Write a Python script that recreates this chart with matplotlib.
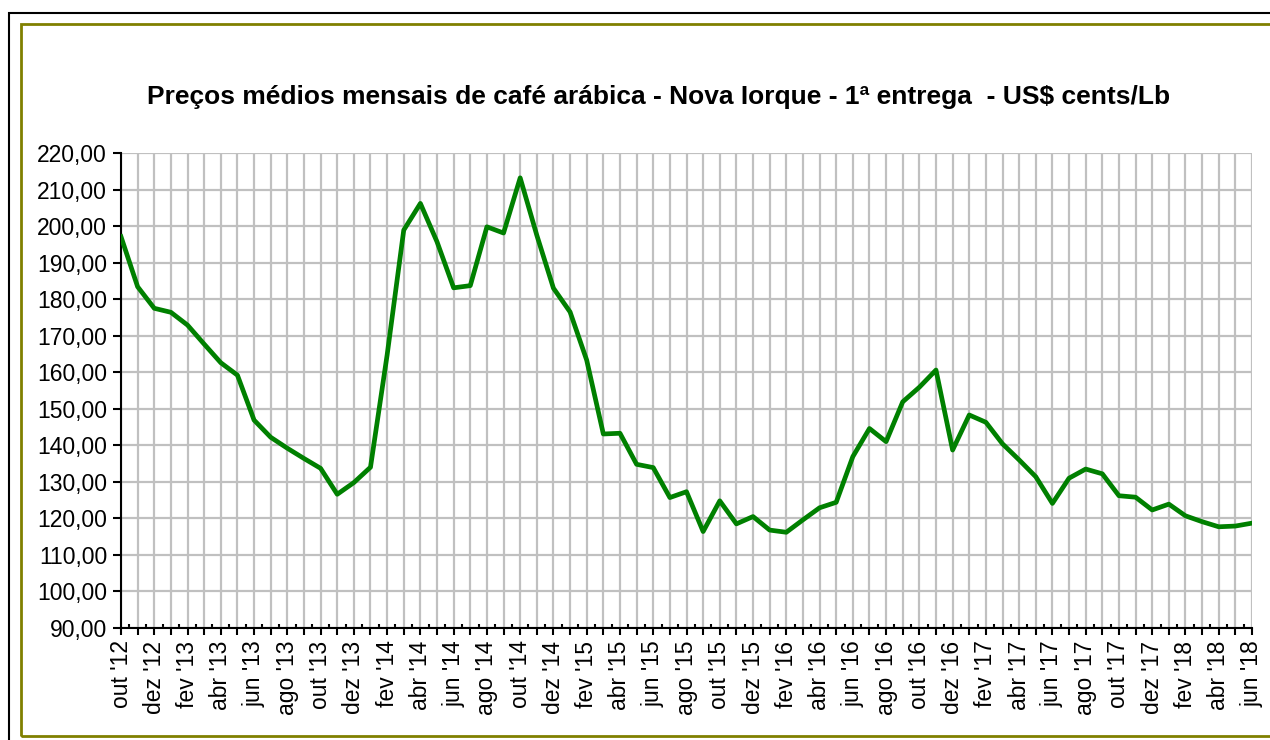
import matplotlib.pyplot as plt
from matplotlib.patches import Rectangle
from matplotlib.ticker import MultipleLocator, FixedLocator

plt.rcParams['font.family'] = ['Liberation Sans', 'DejaVu Sans']

# Monthly averages, out '12 .. jun '18
month_names = ['jan', 'fev', 'mar', 'abr', 'mai', 'jun',
               'jul', 'ago', 'set', 'out', 'nov', 'dez']
start_year, start_month = 2012, 10
prices = [197.1, 183.4, 177.5, 176.4, 172.9, 167.7, 162.6, 159.2, 146.9, 142.2,
          139.2, 136.4, 133.7, 126.6, 129.8, 134.0, 164.7, 198.9, 206.2, 195.7,
          183.1, 183.7, 199.8, 198.1, 213.2, 197.5, 183.0, 176.5, 163.3, 143.1,
          143.3, 134.8, 133.9, 125.7, 127.3, 116.4, 124.8, 118.5, 120.5, 116.8,
          116.2, 119.6, 122.9, 124.4, 136.9, 144.6, 141.0, 151.9, 155.9, 160.6,
          138.7, 148.3, 146.3, 140.4, 136.0, 131.4, 124.1, 131.0, 133.5, 132.2,
          126.2, 125.8, 122.3, 123.9, 120.7, 119.1, 117.7, 117.9, 118.7]

labels = []
for i in range(len(prices)):
    m = (start_month - 1 + i) % 12
    y = start_year + (start_month - 1 + i) // 12
    labels.append(f"{month_names[m]} '{y % 100:02d}")

x = list(range(len(prices)))

fig = plt.figure(figsize=(12.7, 7.4), dpi=100)

# outer frames
fig.patches.append(Rectangle((9 / 1270, -0.1), 1.2, (740 - 13) / 740 + 0.1,
                             transform=fig.transFigure, fill=False,
                             edgecolor='black', linewidth=1.5))
fig.patches.append(Rectangle((21 / 1270, (740 - 736) / 740), 1.2, (736 - 24) / 740,
                             transform=fig.transFigure, fill=False,
                             edgecolor='#808000', linewidth=2))

ax = fig.add_axes([121 / 1270, 112 / 740, (1252 - 121) / 1270, (628 - 153) / 740])

ax.plot(x, prices, color='#008000', linewidth=3.4, zorder=3)

ax.set_xlim(0, len(prices) - 1)
ax.set_ylim(90, 220)
ax.yaxis.set_major_locator(MultipleLocator(10))
ax.set_yticklabels([f"{v:.2f}".replace('.', ',') for v in ax.get_yticks()])

ax.xaxis.set_major_locator(FixedLocator(x))
ax.set_xticklabels([lab if i % 2 == 0 else '' for i, lab in enumerate(labels)], rotation=90)
ax.xaxis.set_minor_locator(FixedLocator([i + 0.5 for i in x[:-1]]))

ax.grid(True, which='major', color='#c0c0c0', linewidth=1.6, zorder=0)
ax.set_axisbelow(True)

ax.tick_params(axis='x', which='major', direction='out', length=5, width=1.5,
               labelsize=16.5, pad=4)
ax.tick_params(axis='x', which='minor', direction='in', length=3, width=1.5)
ax.tick_params(axis='y', direction='out', length=6, width=1.5, labelsize=16.5, pad=4)

for side in ['top', 'right']:
    ax.spines[side].set_visible(False)
for side in ['left', 'bottom']:
    ax.spines[side].set_linewidth(1.5)

fig.text(659 / 1270, (740 - 97) / 740,
         'Preços médios mensais de café arábica - Nova Iorque - 1ª entrega  - US$ cents/Lb',
         ha='center', va='center', fontsize=19, fontweight='bold')

fig.savefig('out.png', dpi=100)
